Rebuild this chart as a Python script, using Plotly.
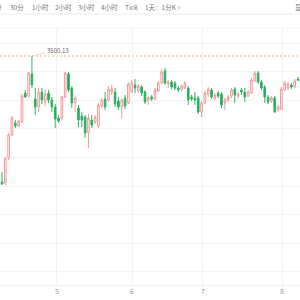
import plotly.graph_objects as go

# ---- data ----
open_ = [3437.13, 3436.63, 3449.13, 3460.63, 3466.63, 3465.13, 3467.13, 3481.63, 3480.13, 3491.13,
         3478.63, 3474.63, 3482.13, 3477.13, 3481.63, 3478.13, 3474.63, 3469.13, 3469.13, 3479.63,
         3491.13, 3484.13, 3476.63, 3474.13, 3470.13, 3469.63, 3461.63, 3468.13, 3467.13, 3465.13,
         3475.13, 3478.63, 3478.13, 3482.13, 3482.13, 3477.63, 3474.63, 3479.13, 3476.63, 3482.13,
         3485.63, 3482.63, 3484.63, 3482.13, 3478.13, 3479.63, 3478.63, 3482.63, 3486.63, 3492.63,
         3486.13, 3487.13, 3486.63, 3484.13, 3483.63, 3484.13, 3484.13, 3479.63, 3479.13, 3479.13,
         3472.13, 3476.63, 3481.13, 3483.13, 3479.13, 3481.63, 3481.13, 3476.63, 3478.13, 3480.13,
         3483.63, 3480.13, 3483.13, 3482.13, 3480.13, 3481.63, 3487.63, 3491.63, 3487.13, 3484.63,
         3479.63, 3477.63, 3479.13, 3473.13, 3473.63, 3483.13, 3484.13, 3485.63, 3484.63, 3488.63]
high = [3442.13, 3449.63, 3461.63, 3470.13, 3468.13, 3468.13, 3481.13, 3483.13, 3492.13, 3500.13,
        3484.13, 3484.13, 3484.13, 3483.13, 3483.13, 3479.63, 3476.13, 3470.63, 3480.13, 3492.13,
        3492.13, 3485.13, 3480.13, 3475.63, 3472.13, 3470.63, 3471.13, 3470.63, 3470.63, 3476.63,
        3479.13, 3482.13, 3485.13, 3485.63, 3484.13, 3479.63, 3479.13, 3480.63, 3487.13, 3488.13,
        3488.63, 3486.13, 3485.63, 3483.13, 3480.13, 3480.63, 3484.13, 3487.63, 3493.63, 3494.13,
        3488.13, 3488.13, 3487.63, 3485.13, 3485.63, 3487.63, 3485.13, 3480.63, 3482.13, 3480.13,
        3477.63, 3482.63, 3484.63, 3484.13, 3481.63, 3482.63, 3482.13, 3479.13, 3480.63, 3484.13,
        3484.63, 3482.13, 3484.13, 3484.13, 3483.13, 3489.13, 3492.63, 3492.63, 3488.13, 3485.63,
        3480.63, 3480.13, 3480.13, 3475.63, 3484.63, 3487.63, 3487.13, 3486.63, 3488.63, 3489.63]
low = [3435.63, 3435.63, 3448.13, 3460.13, 3464.13, 3464.63, 3466.63, 3479.13, 3479.63, 3484.13,
       3470.63, 3472.13, 3476.13, 3475.13, 3476.63, 3472.13, 3464.13, 3466.63, 3468.13, 3479.13,
       3482.13, 3474.13, 3472.13, 3464.63, 3464.63, 3459.13, 3454.13, 3464.13, 3466.13, 3464.13,
       3474.13, 3473.13, 3477.13, 3480.63, 3474.63, 3473.13, 3469.13, 3473.63, 3476.13, 3481.63,
       3481.63, 3481.63, 3480.13, 3476.13, 3475.63, 3477.63, 3478.13, 3482.13, 3486.13, 3485.63,
       3484.13, 3483.63, 3483.13, 3482.13, 3482.63, 3483.63, 3475.63, 3477.63, 3475.63, 3471.13,
       3469.63, 3476.13, 3479.63, 3478.63, 3478.13, 3479.13, 3474.13, 3473.13, 3477.13, 3479.13,
       3476.63, 3479.13, 3480.63, 3477.13, 3479.63, 3481.13, 3487.13, 3486.13, 3483.13, 3476.63,
       3476.13, 3476.63, 3471.63, 3472.13, 3473.13, 3482.63, 3483.13, 3483.63, 3484.13, 3487.63]
close = [3436.13, 3449.13, 3460.63, 3469.13, 3465.13, 3467.63, 3480.13, 3479.63, 3491.63, 3485.63,
         3474.63, 3482.13, 3478.13, 3481.13, 3478.13, 3474.63, 3468.63, 3467.63, 3479.63, 3491.63,
         3483.13, 3476.63, 3479.13, 3468.13, 3468.13, 3461.63, 3469.13, 3465.63, 3469.63, 3475.63,
         3478.13, 3474.63, 3483.63, 3483.63, 3476.13, 3474.63, 3478.13, 3475.13, 3486.13, 3486.63,
         3484.13, 3485.13, 3481.63, 3477.13, 3479.13, 3478.63, 3483.13, 3486.63, 3492.13, 3486.63,
         3487.13, 3484.63, 3484.13, 3483.13, 3485.13, 3486.63, 3478.13, 3478.63, 3478.13, 3472.13,
         3476.63, 3481.63, 3483.63, 3479.63, 3480.63, 3480.13, 3475.63, 3478.13, 3479.63, 3483.13,
         3480.63, 3481.13, 3482.13, 3479.63, 3482.13, 3488.13, 3491.63, 3487.13, 3484.13, 3479.63,
         3477.13, 3479.13, 3472.13, 3474.63, 3483.63, 3486.63, 3486.13, 3484.63, 3487.63, 3488.13]
bars = list(range(len(open_)))

day_ticks = [16.5, 39.1, 60.4, 84.2]
day_labels = ["5", "6", "7", "8"]

toolbar_items = ["15分", "30分", "1小时", "2小时", "3小时", "4小时", "Tick", "1天：1分K ˅", "显示"]
toolbar_px = [4, 8, 30, 53, 76, 99, 123, 143, 293]

FONT = "Noto Sans CJK SC"

fig = go.Figure(go.Candlestick(
    x=bars, open=open_, high=high, low=low, close=close,
    increasing=dict(line=dict(color="#f39a9a", width=1), fillcolor="#ffffff"),
    decreasing=dict(line=dict(color="#35b468", width=1), fillcolor="#0ea44a"),
    hoverinfo="skip",
))

hi = max(high)
hi_i = high.index(hi)

fig.add_shape(type="line", xref="paper", x0=0, x1=1, yref="y", y0=hi, y1=hi,
              line=dict(color="#f2b27c", width=1, dash="2px,2px"), layer="below")
fig.add_annotation(x=hi_i, y=hi, text=f"{hi:.2f}", showarrow=True, ax=26, ay=-6,
                   arrowhead=0, arrowwidth=0.6, arrowcolor="#c8c8c8", standoff=0,
                   font=dict(family=FONT, size=6, color="#666"))

# toolbar
for t, px in zip(toolbar_items, toolbar_px):
    fig.add_annotation(xref="paper", yref="paper", x=px / 300, y=(285 - 7) / 257,
                       text=t, showarrow=False, xanchor="right" if t == "15分" else "left",
                       yanchor="middle", font=dict(family=FONT, size=6.5, color="#777"))
fig.add_shape(type="line", xref="paper", yref="paper", x0=137 / 300, x1=137 / 300,
              y0=(285 - 3) / 257, y1=(285 - 11) / 257, line=dict(color="#dddddd", width=1))
fig.add_shape(type="line", xref="paper", yref="paper", x0=0, x1=1,
              y0=(285 - 14) / 257, y1=(285 - 14) / 257, line=dict(color="#ececec", width=1))
fig.add_shape(type="line", xref="paper", yref="paper", x0=0, x1=1,
              y0=1, y1=1, line=dict(color="#f3f3f3", width=1))

fig.update_layout(
    width=300, height=300,
    margin=dict(l=0, r=0, t=28, b=15),
    paper_bgcolor="white", plot_bgcolor="white",
    showlegend=False,
    xaxis=dict(range=[-0.6, 89.6], rangeslider=dict(visible=False),
               tickmode="array", tickvals=day_ticks, ticktext=day_labels,
               showgrid=True, gridcolor="#f1f1f1", gridwidth=1,
               showline=True, linecolor="#eeeeee", zeroline=False, ticks="",
               tickfont=dict(family=FONT, size=7, color="#999")),
    yaxis=dict(range=[3385.63, 3514.13], tick0=3506.63, dtick=14.3,
               showticklabels=False, showgrid=True, gridcolor="#f3f3f3",
               zeroline=False, ticks=""),
)

fig.write_html("out.html", config={"displayModeBar": False})
